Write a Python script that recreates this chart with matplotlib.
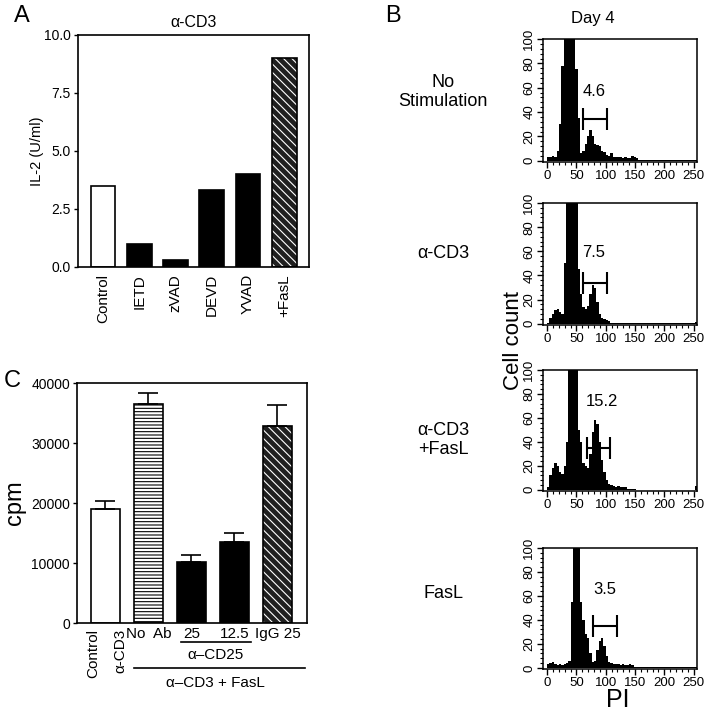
import numpy as np
import matplotlib
matplotlib.use("Agg")
import matplotlib.pyplot as plt
from matplotlib.ticker import MultipleLocator
from matplotlib.transforms import blended_transform_factory

plt.rcParams["font.family"] = ["Liberation Sans", "DejaVu Sans"]
plt.rcParams["hatch.linewidth"] = 0.8

# ---- panel A: IL-2 production
a_labels = ["Control", "IETD", "zVAD", "DEVD", "YVAD", "+FasL"]
a_values = [3.5, 1.0, 0.32, 3.3, 4.0, 9.0]
a_styles = ["open", "solid", "solid", "solid", "solid", "diag"]

# ---- panel C: proliferation (cpm)
c_values = [19000, 36500, 10100, 13500, 32900]
c_errors = [1400, 1900, 1300, 1500, 3400]
c_styles = ["open", "horiz", "solid", "solid", "diag"]
c_ticklabels = ["", "No  Ab", "25", "12.5", "IgG 25"]

# ---- panel B: PI histograms (counts per 4-channel bin, 0..256)
bin_width = 4
hist_names = ["No\nStimulation", "α-CD3", "α-CD3\n+FasL", "FasL"]
hist_nostim = [3, 3, 4, 3, 8, 30, 78, 110, 110, 110, 110, 110, 75, 35, 6, 8,
               14, 20, 25, 20, 14, 13, 12, 8, 7, 5, 4, 6, 3, 3, 3, 3,
               2, 3, 2, 2, 4, 3, 2, 1, 1, 1, 1, 1, 1, 1, 1, 1,
               0.5, 1, 0.5, 0.5, 0.5, 0.5, 0.5, 0.5, 0.5, 0.5, 0.5, 0.5, 0.5, 0.5, 0.5, 0.5]
hist_cd3 = [1, 5, 8, 11, 12, 10, 8, 50, 110, 110, 110, 110, 110, 45, 25, 14,
            12, 15, 25, 32, 30, 18, 8, 5, 4, 3, 2, 0.5, 0.3, 0.3, 0.3, 0.3,
            0.3, 0.3, 0.3, 0.3, 0.3, 0.3, 0.3, 0.3, 0.3, 0.3, 0.3, 0.3, 1, 1, 1, 1,
            1, 1, 1, 1, 1, 1, 1, 1, 1, 1, 1, 1, 1, 1, 1, 1.5]
hist_cd3_fasl = [2, 12, 18, 22, 20, 15, 13, 20, 40, 110, 110, 110, 110, 50, 40, 22,
                 20, 18, 30, 48, 58, 55, 40, 25, 15, 8, 5, 4, 3, 2, 3, 2,
                 2, 2, 1, 1, 1, 0.5, 0, 0, 0, 0, 0, 0, 0, 0, 0, 0,
                 0, 0, 0, 0, 0, 0, 0, 0, 0, 0, 0, 0, 0, 0, 0, 3]
hist_fasl = [3, 4, 5, 3, 2, 3, 2, 3, 4, 6, 55, 110, 110, 110, 55, 40,
             28, 25, 12, 5, 6, 15, 22, 25, 18, 10, 5, 4, 3, 3, 3, 2,
             3, 2, 2, 3, 2, 1, 1, 1, 1, 1, 0.5, 0.5, 0.5, 0.5, 0.5, 0.5,
             0.5, 0.5, 0.5, 0.5, 0.5, 0.5, 0.5, 0.5, 0.5, 0.5, 0.5, 0.5, 0.5, 0.5, 0.5, 0.5]
hists = [hist_nostim, hist_cd3, hist_cd3_fasl, hist_fasl]
gate_pct = ["4.6", "7.5", "15.2", "3.5"]
gate_lo = [62, 62, 68, 78]
gate_hi = [103, 102, 107, 120]
gate_y = [34, 34, 35, 35]
pct_xy = [(80, 57), (79, 59), (93, 74), (99, 65)]


def draw_bar(ax, x, h, style, width):
    if style == "open":
        ax.bar(x, h, width, color="white", edgecolor="black", lw=1.2, zorder=2)
    elif style == "solid":
        ax.bar(x, h, width, color="black", edgecolor="black", lw=1.2, zorder=2)
    elif style == "horiz":
        ax.bar(x, h, width, color="white", edgecolor="black", hatch="-----", lw=0, zorder=2)
        ax.bar(x, h, width, fill=False, edgecolor="black", lw=1.2, zorder=3)
    else:
        ax.bar(x, h, width, color="#202020", edgecolor="white", hatch="\\\\\\\\", lw=0, zorder=2)
        ax.bar(x, h, width, fill=False, edgecolor="black", lw=1.2, zorder=3)


fig = plt.figure(figsize=(7.08, 7.19), dpi=100)

# ---------------- panel A
axA = fig.add_axes([0.110, 0.6287, 0.326, 0.3227])
xa = np.arange(len(a_values))
for x, v, s in zip(xa, a_values, a_styles):
    draw_bar(axA, x, v, s, 0.68)
axA.set_xlim(-0.69, 5.67)
axA.set_ylim(0, 10)
axA.set_yticks([0, 2.5, 5.0, 7.5, 10.0])
axA.set_yticklabels(["0.0", "2.5", "5.0", "7.5", "10.0"], fontsize=10)
axA.set_xticks(xa)
axA.set_xticklabels(a_labels, rotation=90, fontsize=11)
axA.tick_params(axis="x", length=0, pad=5)
axA.tick_params(axis="y", length=3, width=1, pad=2)
axA.set_ylabel("IL-2 (U/ml)", fontsize=10.5, labelpad=0)
axA.set_title("α-CD3", fontsize=11.5, pad=6)
for sp in axA.spines.values():
    sp.set_linewidth(1.2)

# ---------------- panel C
axC = fig.add_axes([0.1088, 0.1335, 0.3249, 0.3338])
xc = np.arange(len(c_values))
for x, v, s in zip(xc, c_values, c_styles):
    draw_bar(axC, x, v, s, 0.67)
axC.errorbar(xc, c_values, yerr=[np.zeros(len(c_errors)), c_errors], fmt="none",
             ecolor="black", elinewidth=1.2, capsize=7, capthick=1.2, zorder=4)
axC.set_xlim(-0.66, 4.69)
axC.set_ylim(0, 40000)
axC.set_yticks([0, 10000, 20000, 30000, 40000])
axC.tick_params(axis="y", labelsize=10, length=3, width=1, pad=2)
axC.set_xticks(xc)
axC.set_xticklabels(c_ticklabels, fontsize=11)
axC.tick_params(axis="x", length=0, pad=3)
axC.set_ylabel("cpm", fontsize=17, labelpad=4)
for sp in axC.spines.values():
    sp.set_linewidth(1.2)
trC = blended_transform_factory(axC.transData, axC.transAxes)
axC.text(-0.29, -0.025, "Control", transform=trC, rotation=90, ha="center", va="top", fontsize=11)
axC.text(0.34, -0.025, "α-CD3", transform=trC, rotation=90, ha="center", va="top", fontsize=11)
axC.plot([1.76, 3.38], [-0.079, -0.079], transform=trC, color="black", lw=1.2, clip_on=False)
axC.text(2.55, -0.133, "α–CD25", transform=trC, ha="center", va="center", fontsize=11)
axC.plot([0.66, 4.64], [-0.1875, -0.1875], transform=trC, color="black", lw=1.2, clip_on=False)
axC.text(2.55, -0.25, "α–CD3 + FasL", transform=trC, ha="center", va="center", fontsize=11)

# ---------------- panel B
hist_boxes = [[0.767, 0.7747, 0.2175, 0.171],
              [0.767, 0.548, 0.2175, 0.1697],
              [0.767, 0.3171, 0.2175, 0.1683],
              [0.767, 0.0695, 0.2175, 0.1683]]
name_y = [0.872, 0.648, 0.388, 0.175]
edges = np.arange(0, bin_width * len(hist_nostim) + 1, bin_width)
for i, (box, counts) in enumerate(zip(hist_boxes, hists)):
    ax = fig.add_axes(box)
    ax.stairs(counts, edges, fill=True, color="black", lw=0)
    ax.set_xlim(-7, 256)
    ax.set_ylim(-1, 100)
    ax.xaxis.set_major_locator(MultipleLocator(50))
    ax.xaxis.set_minor_locator(MultipleLocator(10))
    ax.yaxis.set_major_locator(MultipleLocator(20))
    ax.yaxis.set_minor_locator(MultipleLocator(4))
    ax.tick_params(which="major", length=4, width=1, labelsize=9.5, pad=1.5)
    ax.tick_params(which="minor", length=2.5, width=0.8)
    ax.tick_params(axis="y", labelrotation=90)
    for lbl in ax.get_yticklabels():
        lbl.set_va("center")
    for sp in ax.spines.values():
        sp.set_linewidth(1.1)
    ax.hlines(gate_y[i], gate_lo[i], gate_hi[i], color="black", lw=1.5)
    ax.vlines([gate_lo[i], gate_hi[i]], gate_y[i] - 9, gate_y[i] + 9, color="black", lw=1.5)
    ax.text(pct_xy[i][0], pct_xy[i][1], gate_pct[i], fontsize=12, ha="center", va="center")
    fig.text(0.626, name_y[i], hist_names[i], fontsize=13, ha="center", va="center",
             linespacing=1.1)

fig.text(0.838, 0.974, "Day 4", fontsize=12, ha="center", va="center")
fig.text(0.7246, 0.527, "Cell count", fontsize=16, rotation=90, ha="center", va="center")
fig.text(0.873, 0.026, "PI", fontsize=18, ha="center", va="center")

# panel letters
fig.text(0.031, 0.978, "A", fontsize=17, ha="center", va="center")
fig.text(0.555, 0.978, "B", fontsize=17, ha="center", va="center")
fig.text(0.018, 0.47, "C", fontsize=17, ha="center", va="center")

fig.savefig("out.png", dpi=100)
